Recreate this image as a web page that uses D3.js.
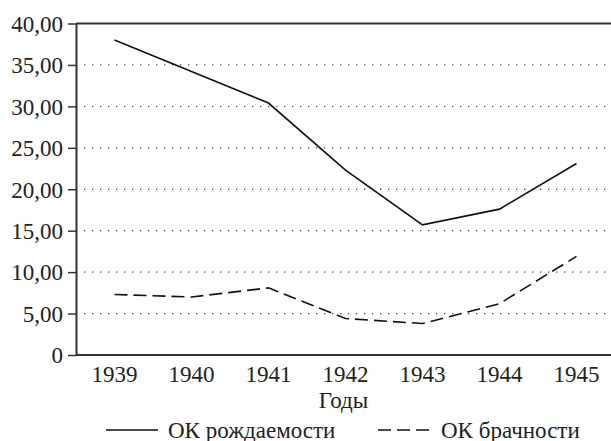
<!DOCTYPE html>
<html>
<head>
<meta charset="utf-8">
<script src="https://cdn.jsdelivr.net/npm/d3@7"></script>
<style>
  body { margin: 0; background: #fff; }
</style>
</head>
<body>
<script>
// data
var years = ["1939", "1940", "1941", "1942", "1943", "1944", "1945"];
var birthRate = [38.0, 34.2, 30.4, 22.3, 15.7, 17.6, 23.1];
var marriageRate = [7.3, 7.0, 8.1, 4.4, 3.8, 6.2, 11.9];
var yTicks = [0, 5, 10, 15, 20, 25, 30, 35, 40];
var seriesNames = ["ОК рождаемости", "ОК брачности"];
var xTitle = "Годы";

var width = 611, height = 441;
var plotLeft = 76, plotRight = 615, plotTop = 23.5, plotBottom = 355;

var svg = d3.select("body").append("svg")
  .attr("width", width)
  .attr("height", height)
  .attr("font-family", "Liberation Serif")
  .attr("font-size", 23);

var x = d3.scaleBand().domain(years).range([plotLeft, plotRight]);
var y = d3.scaleLinear().domain([0, 40]).range([plotBottom, plotTop]);

function fmt(d) {
  return d === 0 ? "0" : d.toFixed(2).replace(".", ",");
}

// grid: dotted lines, the top one is solid
svg.append("g").selectAll("line")
  .data(yTicks.filter(function(d) { return d > 0; }))
  .enter().append("line")
  .attr("x1", function(d) { return d === 40 ? plotLeft : plotLeft + 8; })
  .attr("x2", width)
  .attr("y1", function(d) { return y(d); })
  .attr("y2", function(d) { return y(d); })
  .attr("stroke", function(d) { return d === 40 ? "#333" : "#444"; })
  .attr("stroke-width", function(d) { return d === 40 ? 2 : 1.3; })
  .attr("stroke-dasharray", function(d) { return d === 40 ? null : "1.3,6.7"; });

// y axis
var yAxis = svg.append("g")
  .attr("transform", "translate(" + plotLeft + ",0)")
  .call(d3.axisLeft(y).tickValues(yTicks).tickFormat(fmt).tickSize(8).tickSizeOuter(0).tickPadding(5))
  .attr("font-family", null)
  .attr("font-size", null);
yAxis.select(".domain").attr("stroke", "#333").attr("stroke-width", 2);
yAxis.selectAll(".tick line").attr("stroke", "#333").attr("stroke-width", 1.5);
yAxis.selectAll(".tick text")
  .attr("dy", "0.34em")
  .attr("fill", "#222");

// x axis
var xAxis = svg.append("g")
  .attr("transform", "translate(0," + plotBottom + ")")
  .call(d3.axisBottom(x).tickSize(0).tickPadding(10))
  .attr("font-family", null)
  .attr("font-size", null);
xAxis.select(".domain").attr("d", "M" + plotLeft + ",0H" + width)
  .attr("stroke", "#333").attr("stroke-width", 2);
xAxis.selectAll(".tick text")
  .attr("dy", "0.72em")
  .attr("fill", "#222");

svg.append("text")
  .attr("x", 343.5)
  .attr("y", 408)
  .attr("text-anchor", "middle")
  .attr("fill", "#222")
  .text(xTitle);

// lines
var line = d3.line()
  .x(function(d, i) { return x(years[i]) + x.bandwidth() / 2; })
  .y(function(d) { return y(d); });

svg.append("path")
  .attr("d", line(birthRate))
  .attr("fill", "none")
  .attr("stroke", "#111")
  .attr("stroke-width", 1.6);

svg.append("path")
  .attr("d", line(marriageRate))
  .attr("fill", "none")
  .attr("stroke", "#111")
  .attr("stroke-width", 1.6)
  .attr("stroke-dasharray", "13,6");

// legend
var legend = [
  { name: seriesNames[0], x1: 106, x2: 158, tx: 168, dash: null },
  { name: seriesNames[1], x1: 378, x2: 430, tx: 441, dash: "13,6" }
];
var lg = svg.append("g").selectAll("g").data(legend).enter().append("g");
lg.append("line")
  .attr("x1", function(d) { return d.x1; })
  .attr("x2", function(d) { return d.x2; })
  .attr("y1", 430).attr("y2", 430)
  .attr("stroke", "#111")
  .attr("stroke-width", 1.6)
  .attr("stroke-dasharray", function(d) { return d.dash; });
lg.append("text")
  .attr("x", function(d) { return d.tx; })
  .attr("y", 438)
  .attr("fill", "#222")
  .text(function(d) { return d.name; });
</script>
</body>
</html>
